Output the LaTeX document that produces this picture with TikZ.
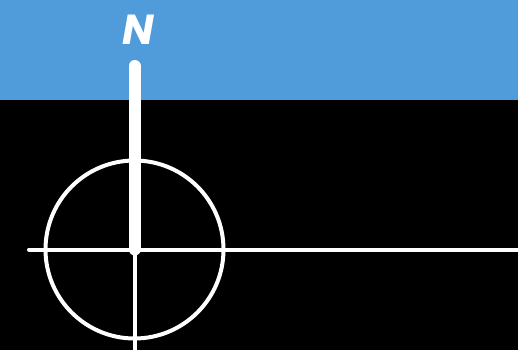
\documentclass[tikz,border=0pt]{standalone}
\usepackage{fontspec}
\setmainfont{Poppins}
\definecolor{skyblue}{RGB}{80,155,217}
\begin{document}
\begin{tikzpicture}[x=1pt,y=-1pt,
  thinline/.style={white,line width=4pt,line cap=round},
  thickline/.style={white,line width=12pt,line cap=round}]
\fill[black] (0,0) rectangle (518,350);
\useasboundingbox (0,0) rectangle (518,350);
\fill[skyblue] (0,0) rectangle (518,100);
\coordinate (c) at (134.5,249.5);
\coordinate (top) at (134.5,66);
\coordinate (left) at (29,249.5);
\coordinate (right) at (520,249.5);
\coordinate (bottom) at (134.5,352);
\node[circle,draw=white,line width=4pt,minimum size=178pt,inner sep=0pt] (ring) at (c) {};
\draw[thinline] (left) -- (right);
\draw[thinline] (c) -- (bottom);
\draw[thickline] (top) -- (c);
\node[text=white,font=\fontsize{42}{42}\selectfont\bfseries\itshape,inner sep=0pt,anchor=base] (N) at (138.5,45) {N};
\end{tikzpicture}
\end{document}
